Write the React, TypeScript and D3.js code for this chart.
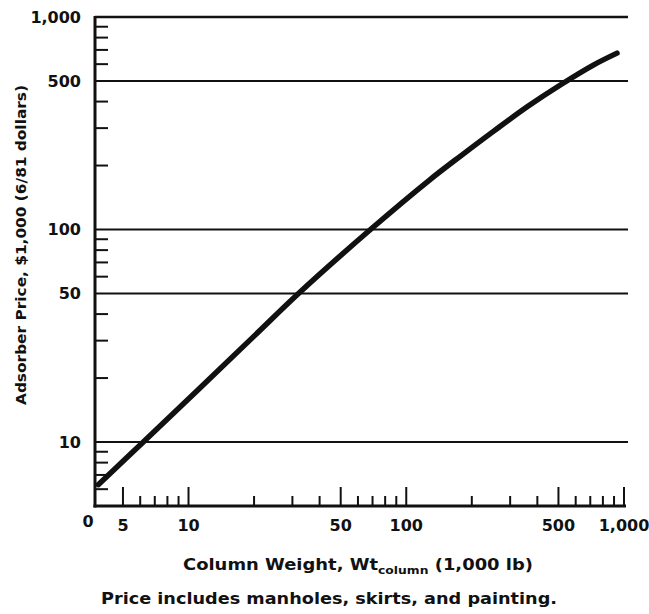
import React from "react";
import * as d3 from "d3";

const weights = [3.85, 6.2, 20, 32, 68.5, 127, 180, 254, 362, 512, 723, 929];
const prices = [6.3, 10, 31.5, 50, 100, 170, 224, 292, 380, 480, 594, 676];

const xMajorTicks = [5, 10, 50, 100, 500, 1000];
const xTickLabels = ["5", "10", "50", "100", "500", "1,000"];
const xMinorTicks = [6, 7, 8, 9, 20, 30, 40, 60, 70, 80, 90, 200, 300, 400, 600, 700, 800, 900];

const yGridValues = [10, 50, 100, 500, 1000];
const yTickLabels = ["10", "50", "100", "500", "1,000"];
const yMinorTicks = [6, 7, 8, 9, 20, 30, 40, 60, 70, 80, 90, 200, 300, 400, 600, 700, 800, 900];

const W = 649;
const H = 614;
const FONT = "'DejaVu Sans', 'Liberation Sans', Arial, sans-serif";

export default function App() {
  const x = d3.scaleLog().domain([3.72, 1000]).range([95, 624]);
  const y = d3.scaleLog().domain([5, 1000]).range([506, 17]);
  const x0 = x.range()[0];
  const x1 = x.range()[1];
  const yb = y.range()[0];
  const yt = y.range()[1];

  const pts: [number, number][] = weights.map((w, i) => [w, prices[i]]);
  const line = d3
    .line<[number, number]>()
    .x((d) => x(d[0]))
    .y((d) => y(d[1]))
    .curve(d3.curveCatmullRom.alpha(0.5));

  return (
    <svg
      width={W}
      height={H}
      style={{ position: "absolute", left: 0, top: 0, background: "#fff" }}
      fontFamily={FONT}
    >
      <rect x={0} y={0} width={W} height={H} fill="#fff" />
      {/* grid lines */}
      {yGridValues.map((v) => (
        <line key={"g" + v} x1={x0} x2={x1 + 4} y1={y(v)} y2={y(v)} stroke="#111" strokeWidth={v === 1000 ? 2.5 : 2} />
      ))}
      {/* y minor ticks */}
      {yMinorTicks.map((v) => (
        <line key={"ym" + v} x1={x0} x2={x0 + 13} y1={y(v)} y2={y(v)} stroke="#111" strokeWidth={2} />
      ))}
      {/* x ticks */}
      {xMajorTicks.map((v) => (
        <line key={"xM" + v} x1={x(v)} x2={x(v)} y1={yb} y2={yb - 19} stroke="#111" strokeWidth={2} />
      ))}
      {xMinorTicks.map((v) => (
        <line key={"xm" + v} x1={x(v)} x2={x(v)} y1={yb} y2={yb - 10} stroke="#111" strokeWidth={2} />
      ))}
      {/* axes */}
      <line x1={x0} x2={x0} y1={yt - 1} y2={yb + 1.5} stroke="#111" strokeWidth={3} />
      <line x1={x0 - 1.5} x2={x1 + 2} y1={yb} y2={yb} stroke="#111" strokeWidth={3} />
      {/* curve */}
      <path d={line(pts) || ""} fill="none" stroke="#111" strokeWidth={5.5} strokeLinecap="round" />
      {/* y labels */}
      {yGridValues.map((v, i) => (
        <text key={"yl" + v} x={81} y={y(v)} dy="0.36em" textAnchor="end" fontSize={16} fontWeight={700} fill="#111">
          {yTickLabels[i]}
        </text>
      ))}
      {/* x labels */}
      <text x={88} y={527} textAnchor="middle" fontSize={16} fontWeight={700} fill="#111">0</text>
      {xMajorTicks.map((v, i) => (
        <text key={"xl" + v} x={x(v)} y={531} textAnchor="middle" fontSize={16} fontWeight={700} fill="#111">
          {xTickLabels[i]}
        </text>
      ))}
      {/* axis titles */}
      <text x={183} y={570} fontSize={16} fontWeight={700} fill="#111" textLength={350} lengthAdjust="spacingAndGlyphs">
        Column Weight, Wt
        <tspan fontSize={11} dy={4}>column</tspan>
        <tspan dy={-4}> (1,000 lb)</tspan>
      </text>
      <text x={101} y={604} fontSize={15} fontWeight={700} fill="#111" textLength={456} lengthAdjust="spacingAndGlyphs">
        Price includes manholes, skirts, and painting.
      </text>
      <text
        transform={`translate(26, 405) rotate(-90)`}
        fontSize={14}
        fontWeight={700}
        fill="#111"
        textLength={320}
        lengthAdjust="spacingAndGlyphs"
      >
        Adsorber Price, $1,000 (6/81 dollars)
      </text>
    </svg>
  );
}
